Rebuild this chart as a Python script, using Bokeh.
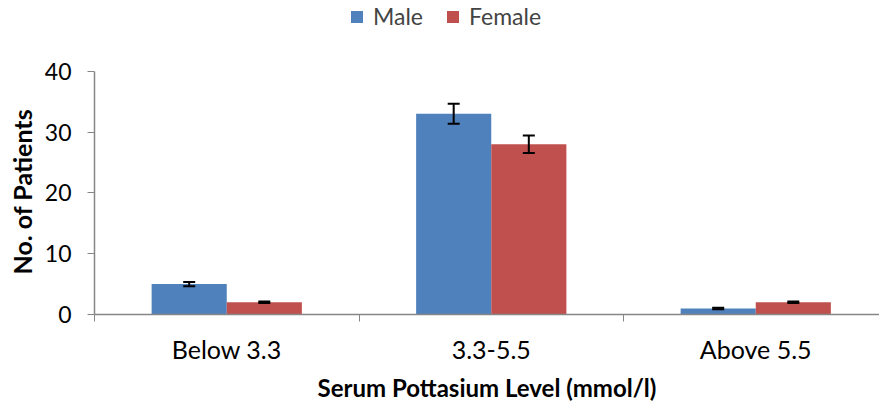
from bokeh.plotting import figure
from bokeh.models import (ColumnDataSource, Range1d, FixedTicker, Whisker, TeeHead,
                          Legend, LegendItem, Title)
from bokeh.embed import file_html
from bokeh.resources import INLINE

categories = ["Below 3.3", "3.3-5.5", "Above 5.5"]
male = [5, 33, 1]
female = [2, 28, 2]
male_err = [0.35, 1.65, 0.12]
female_err = [0.12, 1.45, 0.12]
y_ticks = [0, 10, 20, 30, 40]

MALE_C = "#4F81BD"
FEMALE_C = "#C0504D"
FONT = "Lato"
BW = 0.284

centers = [i + 0.5 for i in range(len(categories))]
xm = [c - BW / 2 for c in centers]
xf = [c + BW / 2 for c in centers]

src_m = ColumnDataSource(dict(x=xm, top=male, lo=[v - e for v, e in zip(male, male_err)],
                              hi=[v + e for v, e in zip(male, male_err)]))
src_f = ColumnDataSource(dict(x=xf, top=female, lo=[v - e for v, e in zip(female, female_err)],
                              hi=[v + e for v, e in zip(female, female_err)]))

W = 879
H = 404
TOP = 0
LEFT = 94
AXIS_Y = 315
BOTTOM = H - AXIS_Y
CAT_PX = 264.5
# frame spans TOP..AXIS_Y px; 40 units must span 244 px
y_end = 40 * (AXIS_Y - TOP) / 244.0
x_end = (W - LEFT) / CAT_PX

p = figure(width=W, height=H, output_backend="svg", toolbar_location=None,
           x_range=Range1d(0, x_end), y_range=Range1d(0, y_end),
           min_border_left=LEFT, min_border_right=0, min_border_top=TOP, min_border_bottom=BOTTOM)
p.outline_line_color = None
p.xgrid.visible = False
p.ygrid.visible = False

rm = p.vbar(x="x", top="top", width=BW, source=src_m, fill_color=MALE_C, line_color=None)
rf = p.vbar(x="x", top="top", width=BW, source=src_f, fill_color=FEMALE_C, line_color=None)

for s in (src_m, src_f):
    w = Whisker(base="x", lower="lo", upper="hi", source=s, line_color="black", line_width=2,
                level="annotation",
                upper_head=TeeHead(size=12, line_color="black", line_width=2),
                lower_head=TeeHead(size=12, line_color="black", line_width=2))
    p.add_layout(w)

AX = "#868686"
xa = p.xaxis[0]
xa.ticker = FixedTicker(ticks=centers, minor_ticks=list(range(len(categories) + 1)))
xa.major_label_overrides = {c: lab for c, lab in zip(centers, categories)}
xa.major_tick_line_color = None
xa.major_tick_out = 7
xa.major_tick_in = 0
xa.minor_tick_line_color = AX
xa.minor_tick_out = 7
xa.minor_tick_in = 0
xa.axis_line_color = AX
xa.axis_line_width = 1.5
xa.major_label_text_font = FONT
xa.major_label_text_font_size = "25px"
xa.major_label_text_color = "black"
xa.major_label_standoff = 12
xa.axis_label = "Serum Pottasium Level (mmol/l)"
xa.axis_label_text_font = FONT
xa.axis_label_text_font_size = "24px"
xa.axis_label_text_font_style = "bold"
xa.axis_label_text_color = "black"
xa.axis_label_standoff = 6

ya = p.yaxis[0]
ya.ticker = FixedTicker(ticks=y_ticks, minor_ticks=[])
ya.bounds = (0, 40)
ya.major_tick_line_color = AX
ya.major_tick_out = 7
ya.major_tick_in = 0
ya.axis_line_color = AX
ya.axis_line_width = 1.5
ya.major_label_text_font = FONT
ya.major_label_text_font_size = "23px"
ya.major_label_text_color = "black"
ya.major_label_standoff = 16

ytitle = Title(text="No. of Patients", align="left", offset=40, standoff=9,
               text_font=FONT, text_font_size="25px", text_font_style="bold",
               text_color="black")
p.add_layout(ytitle, "left")

legend = Legend(items=[LegendItem(label="Male", renderers=[rm]),
                       LegendItem(label="Female", renderers=[rf])],
                orientation="horizontal", location=(349 - LEFT, AXIS_Y - 31 - TOP),
                glyph_width=15, glyph_height=15, label_text_font=FONT,
                label_text_font_size="23px", label_standoff=9, spacing=22,
                padding=0, margin=0, border_line_color=None, background_fill_alpha=0)
p.add_layout(legend, "center")

open("out.html", "w").write(file_html(p, INLINE))
